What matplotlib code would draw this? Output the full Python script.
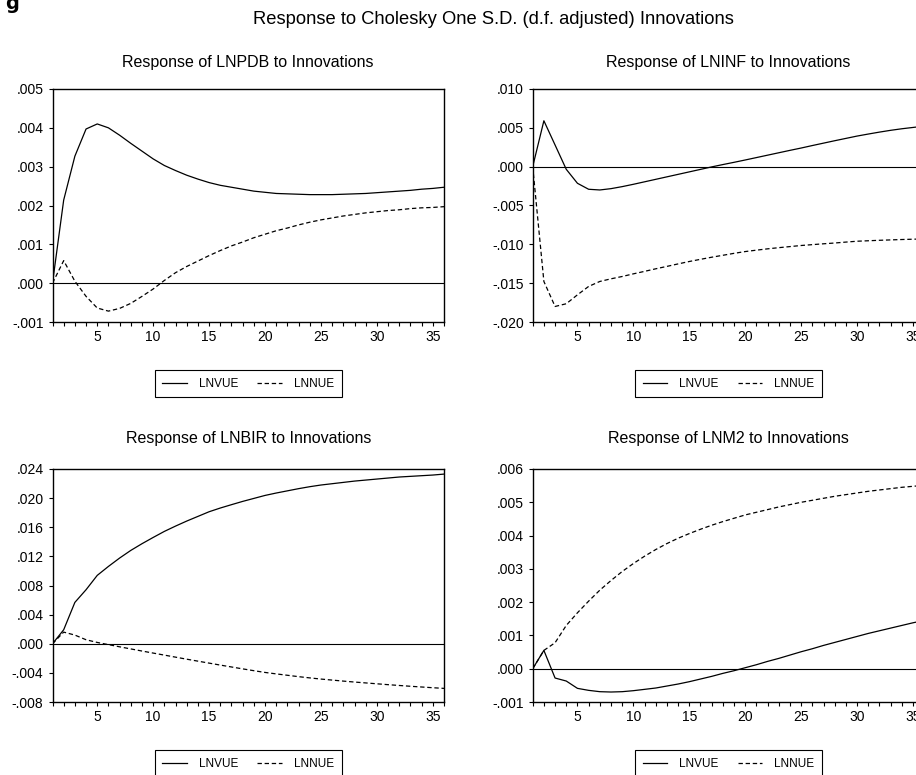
import matplotlib
matplotlib.use("Agg")
import matplotlib.pyplot as plt
from matplotlib.ticker import FixedLocator, FixedFormatter, MultipleLocator

plt.rcParams['font.family'] = ['Liberation Sans', 'DejaVu Sans']

# ---------------- data ----------------
periods = list(range(1, 37))
series_names = ["LNVUE", "LNNUE"]

main_title = "Response to Cholesky One S.D. (d.f. adjusted) Innovations"
panel_titles = ["Response of LNPDB to Innovations", "Response of LNINF to Innovations",
                "Response of LNBIR to Innovations", "Response of LNM2 to Innovations"]

x_ticks = [5, 10, 15, 20, 25, 30, 35]
x_ticklabels = ["5", "10", "15", "20", "25", "30", "35"]

# LNPDB (x 0.001)
lnpdb_vue = [0.00, 2.14, 3.27, 3.97, 4.10, 4.00, 3.81, 3.60, 3.40, 3.20, 3.03, 2.90,
             2.78, 2.68, 2.59, 2.52, 2.47, 2.42, 2.37, 2.34, 2.31, 2.30, 2.29, 2.28,
             2.28, 2.28, 2.29, 2.30, 2.31, 2.33, 2.35, 2.37, 2.39, 2.42, 2.44, 2.47]
lnpdb_nue = [0.00, 0.58, 0.05, -0.34, -0.64, -0.72, -0.65, -0.52, -0.34, -0.15, 0.07, 0.27,
             0.43, 0.57, 0.71, 0.84, 0.96, 1.06, 1.17, 1.26, 1.35, 1.42, 1.50, 1.57,
             1.63, 1.68, 1.73, 1.77, 1.81, 1.84, 1.87, 1.89, 1.92, 1.94, 1.95, 1.97]
lnpdb_yticks = [-0.001, 0.000, 0.001, 0.002, 0.003, 0.004, 0.005]
lnpdb_ylabels = ["-.001", ".000", ".001", ".002", ".003", ".004", ".005"]

# LNINF (x 0.001)
lninf_vue = [0.00, 5.91, 2.79, -0.34, -2.14, -2.91, -3.00, -2.83, -2.57, -2.27, -1.95, -1.63,
             -1.31, -0.99, -0.67, -0.35, -0.03, 0.27, 0.56, 0.86, 1.17, 1.48, 1.79, 2.10,
             2.40, 2.72, 3.03, 3.34, 3.64, 3.94, 4.20, 4.45, 4.68, 4.88, 5.05, 5.22]
lninf_nue = [0.00, -14.78, -18.00, -17.65, -16.50, -15.42, -14.78, -14.44, -14.14, -13.80, -13.48, -13.15,
             -12.84, -12.52, -12.21, -11.93, -11.66, -11.41, -11.16, -10.93, -10.75, -10.58, -10.43, -10.29,
             -10.15, -10.04, -9.93, -9.83, -9.71, -9.60, -9.54, -9.48, -9.43, -9.38, -9.34, -9.30]
lninf_yticks = [-0.020, -0.015, -0.010, -0.005, 0.000, 0.005, 0.010]
lninf_ylabels = ["-.020", "-.015", "-.010", "-.005", ".000", ".005", ".010"]

# LNBIR (x 0.001)
lnbir_vue = [0.00, 1.92, 5.68, 7.42, 9.39, 10.62, 11.77, 12.82, 13.74, 14.60, 15.43, 16.16,
             16.85, 17.49, 18.13, 18.64, 19.10, 19.55, 19.96, 20.37, 20.70, 21.00, 21.30, 21.57,
             21.80, 21.98, 22.16, 22.34, 22.48, 22.62, 22.76, 22.90, 22.99, 23.08, 23.17, 23.30]
lnbir_nue = [0.00, 1.60, 1.19, 0.55, 0.18, -0.12, -0.42, -0.71, -1.00, -1.28, -1.56, -1.84,
             -2.12, -2.39, -2.66, -2.93, -3.19, -3.45, -3.70, -3.94, -4.14, -4.33, -4.52, -4.69,
             -4.85, -4.99, -5.13, -5.26, -5.38, -5.50, -5.62, -5.73, -5.84, -5.94, -6.04, -6.13]
lnbir_yticks = [-0.008, -0.004, 0.000, 0.004, 0.008, 0.012, 0.016, 0.020, 0.024]
lnbir_ylabels = ["-.008", "-.004", ".000", ".004", ".008", ".012", ".016", ".020", ".024"]

# LNM2 (x 0.001)
lnm2_vue = [0.00, 0.55, -0.28, -0.37, -0.59, -0.65, -0.69, -0.70, -0.69, -0.66, -0.62, -0.58,
            -0.52, -0.46, -0.39, -0.31, -0.23, -0.14, -0.06, 0.03, 0.12, 0.22, 0.31, 0.41,
            0.51, 0.60, 0.70, 0.79, 0.88, 0.97, 1.06, 1.14, 1.22, 1.30, 1.38, 1.45]
lnm2_nue = [0.00, 0.55, 0.78, 1.30, 1.68, 2.03, 2.36, 2.65, 2.92, 3.16, 3.38, 3.58,
            3.76, 3.92, 4.06, 4.19, 4.31, 4.42, 4.52, 4.62, 4.70, 4.78, 4.86, 4.93,
            5.00, 5.06, 5.12, 5.18, 5.23, 5.28, 5.33, 5.37, 5.41, 5.45, 5.48, 5.51]
lnm2_yticks = [-0.001, 0.000, 0.001, 0.002, 0.003, 0.004, 0.005, 0.006]
lnm2_ylabels = ["-.001", ".000", ".001", ".002", ".003", ".004", ".005", ".006"]

scale = 0.001
panels = [
    (lnpdb_vue, lnpdb_nue, lnpdb_yticks, lnpdb_ylabels),
    (lninf_vue, lninf_nue, lninf_yticks, lninf_ylabels),
    (lnbir_vue, lnbir_nue, lnbir_yticks, lnbir_ylabels),
    (lnm2_vue, lnm2_nue, lnm2_yticks, lnm2_ylabels),
]

# ---------------- layout (pixels) ----------------
W, H = 916, 775
fig = plt.figure(figsize=(W / 100, H / 100), dpi=100)
fig.patch.set_facecolor("white")

ax_w, ax_h = 391.5, 233
lefts = [52.5, 532.7]
tops = [89, 469]
title_y = [63, 438]

def px_rect(left, top, w, h):
    return [left / W, (H - top - h) / H, w / W, h / H]

fig.text(12 / W, 1 - 9 / H, "g", fontsize=14, fontweight="bold", ha="center",
         va="baseline", family="DejaVu Sans")
fig.text(493 / W, 1 - 19 / H, main_title, fontsize=13.2, ha="center", va="center")

for i, (vue, nue, yt, yl) in enumerate(panels):
    r, c = divmod(i, 2)
    ax = fig.add_axes(px_rect(lefts[c], tops[r], ax_w, ax_h))
    l1, = ax.plot(periods, [v * scale for v in vue], color="black", lw=0.9,
                  label=series_names[0])
    l2, = ax.plot(periods, [v * scale for v in nue], color="black", lw=0.9,
                  linestyle=(0, (3.5, 2.2)), label=series_names[1])
    ax.axhline(0, color="black", lw=0.8, zorder=1)
    ax.set_xlim(1, 36)
    ax.set_ylim(yt[0], yt[-1])
    ax.yaxis.set_major_locator(FixedLocator(yt))
    ax.yaxis.set_major_formatter(FixedFormatter(yl))
    ax.xaxis.set_major_locator(FixedLocator(x_ticks))
    ax.xaxis.set_major_formatter(FixedFormatter(x_ticklabels))
    ax.xaxis.set_minor_locator(MultipleLocator(1))
    ax.tick_params(axis="both", which="both", direction="out", length=3,
                   width=0.8, labelsize=10, color="black")
    ax.tick_params(axis="x", pad=3)
    ax.tick_params(axis="y", pad=3.5)
    for s in ax.spines.values():
        s.set_linewidth(1.0)
    cx = lefts[c] + ax_w / 2
    fig.text(cx / W, 1 - title_y[r] / H, panel_titles[i], fontsize=11.5,
             ha="center", va="center")
    leg = ax.legend(handles=[l1, l2], loc="upper center",
                    bbox_to_anchor=(0.5, -48 / ax_h), borderaxespad=0, ncol=2,
                    fontsize=8.5, frameon=True, fancybox=False, shadow=False,
                    edgecolor="black", framealpha=1, handlelength=2.1,
                    handletextpad=1.0, columnspacing=1.6, borderpad=0.65)
    leg.get_frame().set_linewidth(0.8)

fig.savefig("out.png", dpi=100)
